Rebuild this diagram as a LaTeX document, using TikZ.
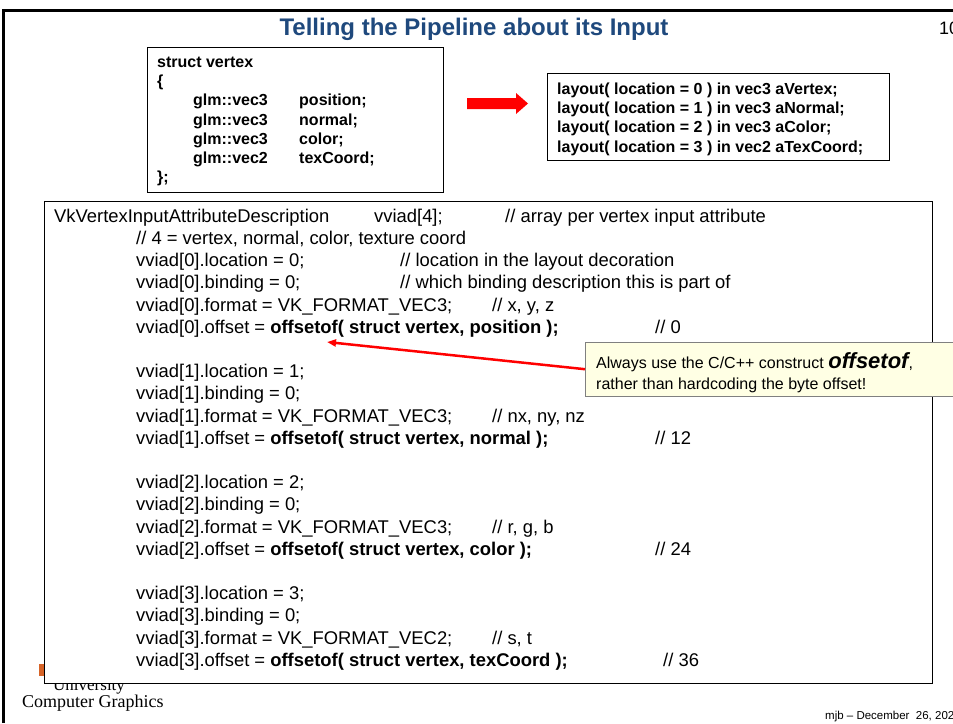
\documentclass[tikz,border=0pt]{standalone}
\usepackage{fontspec}
\setmainfont{Liberation Sans}
\newfontfamily\serifcg{Liberation Serif}
\usepackage{tikz}
\usetikzlibrary{arrows.meta}
\usepackage{xcolor}
\definecolor{titleblue}{RGB}{31,73,125}
\definecolor{notebg}{RGB}{255,255,228}
\definecolor{logoorange}{RGB}{215,100,40}

\begin{document}
\begin{tikzpicture}[x=1pt,y=-1pt,
    code/.style={anchor=base west, inner sep=0pt, font=\fontsize{18.4}{22}\selectfont},
    decl/.style={anchor=base west, inner sep=0pt, font=\fontsize{16}{19}\selectfont\bfseries},
    tip/.style={anchor=base west, inner sep=0pt, font=\fontsize{16}{19}\selectfont},
    box/.style={draw=black, line width=1.1pt, inner sep=0pt, anchor=north west}]
    \useasboundingbox (0,0) rectangle (953,723);
    \fill[white] (0,0) rectangle (953,723);
    \draw[line width=3pt] (3.5,723) -- (3.5,10.5) -- (953,10.5);
    \node[font=\fontsize{24}{28}\selectfont\bfseries, text=titleblue] (title) at (474,29) {Telling the Pipeline about its Input};
    \node[font=\fontsize{18}{22}\selectfont, anchor=west, inner sep=0pt] (pagenum) at (939,28) {10};

    \node[box, minimum width=296pt, minimum height=145pt] (structbox) at (147,47) {};
    \node[decl] (sname) at (157,67.5) {struct vertex};
    \node[decl] (sopen) at (157,86.7) {\{};
    \node[decl] (t0) at (193,105.9) {glm::vec3};
    \node[decl] (m0) at (299,105.9) {position;};
    \node[decl] (t1) at (193,125.1) {glm::vec3};
    \node[decl] (m1) at (299,125.1) {normal;};
    \node[decl] (t2) at (193,144.3) {glm::vec3};
    \node[decl] (m2) at (299,144.3) {color;};
    \node[decl] (t3) at (193,163.5) {glm::vec2};
    \node[decl] (m3) at (299,163.5) {texCoord;};
    \node[decl] (sclose) at (157,182.7) {\};};

    \fill[red] (467,98) -- (516,98) -- (516,93) -- (528,103.5) -- (516,114) -- (516,109) -- (467,109) -- cycle;

    \node[box, minimum width=342pt, minimum height=87pt] (glslbox) at (547,73) {};
    \node[decl] (a0) at (557,94.5) {layout( location = 0 ) in vec3 aVertex;};
    \node[decl] (a1) at (557,113.7) {layout( location = 1 ) in vec3 aNormal;};
    \node[decl] (a2) at (557,132.9) {layout( location = 2 ) in vec3 aColor;};
    \node[decl] (a3) at (557,152.1) {layout( location = 3 ) in vec2 aTexCoord;};

    \fill[logoorange] (39,664) rectangle (50,676);
    \node[font=\fontsize{17}{20}\selectfont\serifcg, anchor=base west, inner sep=0pt] (univ) at (53,690) {University};
    \node[font=\fontsize{18}{21}\selectfont\serifcg, anchor=base west, inner sep=0pt] (cg) at (22,707) {Computer Graphics};
    \node[font=\fontsize{11.5}{14}\selectfont, anchor=base west, inner sep=0pt] (footer) at (825,719) {mjb – December\ \ 26, 2022};

    \node[box, fill=white, minimum width=888pt, minimum height=482pt] (codebox) at (44,201) {};
    \node[code] (decl) at (54,222) {VkVertexInputAttributeDescription};
    \node[code] (declvar) at (374,222) {vviad[4];};
    \node[code] (declnote) at (505,222) {// array per vertex input attribute};
    \node[code] (count) at (136,244.4) {// 4 = vertex, normal, color, texture coord};

    \node[code] (loc0) at (136,266.6) {vviad[0].location = 0;};
    \node[code] (loc0n) at (400,266.6) {// location in the layout decoration};
    \node[code] (bind0) at (136,288.8) {vviad[0].binding = 0;};
    \node[code] (bind0n) at (400,288.8) {// which binding description this is part of};
    \node[code] (fmt0) at (136,311) {vviad[0].format = VK\_FORMAT\_VEC3;};
    \node[code] (fmt0n) at (492,311) {// x, y, z};
    \node[code] (off0) at (136,333.2) {vviad[0].offset = \textbf{offsetof( struct vertex, position );}};
    \node[code] (off0n) at (655,333.2) {// 0};

    \node[code] (loc1) at (136,377.6) {vviad[1].location = 1;};
    \node[code] (bind1) at (136,399.8) {vviad[1].binding = 0;};
    \node[code] (fmt1) at (136,422) {vviad[1].format = VK\_FORMAT\_VEC3;};
    \node[code] (fmt1n) at (492,422) {// nx, ny, nz};
    \node[code] (off1) at (136,444.2) {vviad[1].offset = \textbf{offsetof( struct vertex, normal );}};
    \node[code] (off1n) at (655,444.2) {// 12};

    \node[code] (loc2) at (136,488.6) {vviad[2].location = 2;};
    \node[code] (bind2) at (136,510.8) {vviad[2].binding = 0;};
    \node[code] (fmt2) at (136,533) {vviad[2].format = VK\_FORMAT\_VEC3;};
    \node[code] (fmt2n) at (492,533) {// r, g, b};
    \node[code] (off2) at (136,555.2) {vviad[2].offset = \textbf{offsetof( struct vertex, color );}};
    \node[code] (off2n) at (655,555.2) {// 24};

    \node[code] (loc3) at (136,599.6) {vviad[3].location = 3;};
    \node[code] (bind3) at (136,621.8) {vviad[3].binding = 0;};
    \node[code] (fmt3) at (136,644) {vviad[3].format = VK\_FORMAT\_VEC2;};
    \node[code] (fmt3n) at (492,644) {// s, t};
    \node[code] (off3) at (136,666.2) {vviad[3].offset = \textbf{offsetof( struct vertex, texCoord );}};
    \node[code] (off3n) at (663,666.2) {// 36};

    \node[draw=gray, fill=notebg, inner sep=0pt, anchor=north west, minimum width=420pt, minimum height=54pt] (callout) at (585,342) {};
    \node[tip] (tipline1) at (596,368) {Always use the C/C++ construct {\fontsize{22}{24}\selectfont\bfseries\itshape offsetof},};
    \node[tip] (tipline2) at (596,389) {rather than hardcoding the byte offset!};
    \coordinate (target) at (327,342);
    \draw[red, line width=2.5pt, -{Triangle[length=9pt,width=7pt]}] (callout.west) -- (target);
\end{tikzpicture}
\end{document}
